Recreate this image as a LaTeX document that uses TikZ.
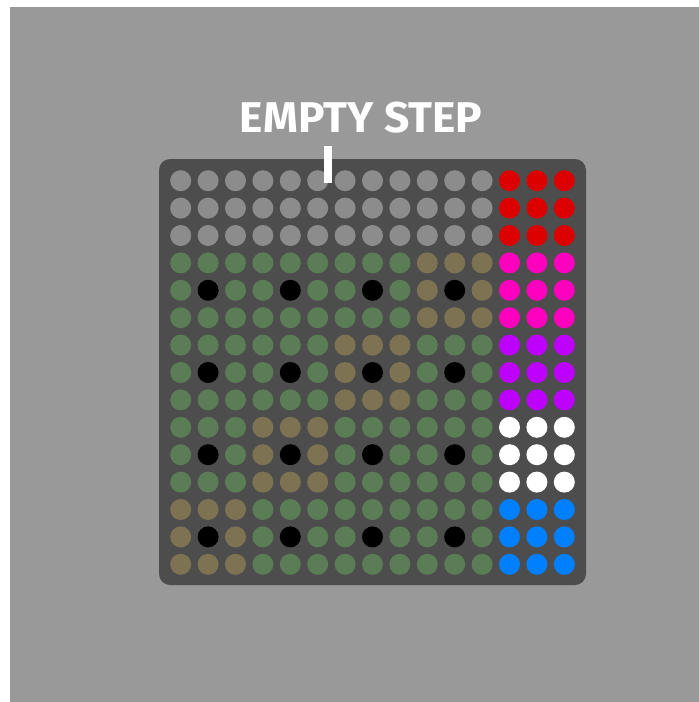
\documentclass[tikz,border=0pt]{standalone}
\usepackage{fontspec}
\setmainfont{Fira Sans}
\definecolor{bggray}{RGB}{153,153,153}
\definecolor{panelgray}{RGB}{77,77,77}
\definecolor{dotgray}{RGB}{140,140,140}
\definecolor{dotgreen}{RGB}{90,125,86}
\definecolor{dotkhaki}{RGB}{125,115,82}
\definecolor{dotred}{RGB}{221,0,0}
\definecolor{dotmagenta}{RGB}{255,0,190}
\definecolor{dotpurple}{RGB}{190,0,255}
\definecolor{dotwhite}{RGB}{255,255,255}
\definecolor{dotblue}{RGB}{0,128,255}
\definecolor{dotblack}{RGB}{0,0,0}
\begin{document}
\begin{tikzpicture}[x=1pt,y=-1pt,
  dot/.style={circle,minimum size=21pt,inner sep=0pt,draw=none},
  panel/.style={fill=panelgray,rounded corners=11pt},
  lbl/.style={text=white,font=\fontsize{43}{43}\selectfont\bfseries,inner sep=0pt,anchor=base,xscale=1.03},
  tick/.style={draw=white,line width=7.5pt}]
\useasboundingbox (0,0) rectangle (699,702);
\fill[white] (0,0) rectangle (699,702);
\fill[bggray] (10,7) rectangle (699,702);
\path[panel] (159,159) rectangle (586,585);
\foreach \r in {0,...,14}{
  \foreach \c in {0,...,14}{
    \ifnum\r<3
      \ifnum\c<12 \def\dotcol{dotgray}\else\def\dotcol{dotred}\fi
    \else
      \pgfmathtruncatemacro\br{(\r-3)/3}
      \pgfmathtruncatemacro\bc{\c/3}
      \pgfmathtruncatemacro\ir{mod(\r-3,3)}
      \pgfmathtruncatemacro\ic{mod(\c,3)}
      \pgfmathtruncatemacro\kb{3-\br}
      \ifnum\c>11
        \ifcase\br \def\dotcol{dotmagenta}\or\def\dotcol{dotpurple}\or\def\dotcol{dotwhite}\or\def\dotcol{dotblue}\fi
      \else
        \def\dotcol{dotgreen}
        \ifnum\bc=\kb \def\dotcol{dotkhaki}\fi
        \ifnum\ir=1 \ifnum\ic=1 \def\dotcol{dotblack}\fi\fi
      \fi
    \fi
    \node[dot,fill=\dotcol] (d-\r-\c) at ({180.7+27.4*\c},{180.7+27.4*\r}) {};
  }
}
\node[lbl] (label) at (361.2,132.3) {EMPTY STEP};
\coordinate (tickTop) at (328,146);
\coordinate (tickBot) at (328,182.7);
\draw[tick] (tickTop) -- (tickBot);
\end{tikzpicture}
\end{document}
